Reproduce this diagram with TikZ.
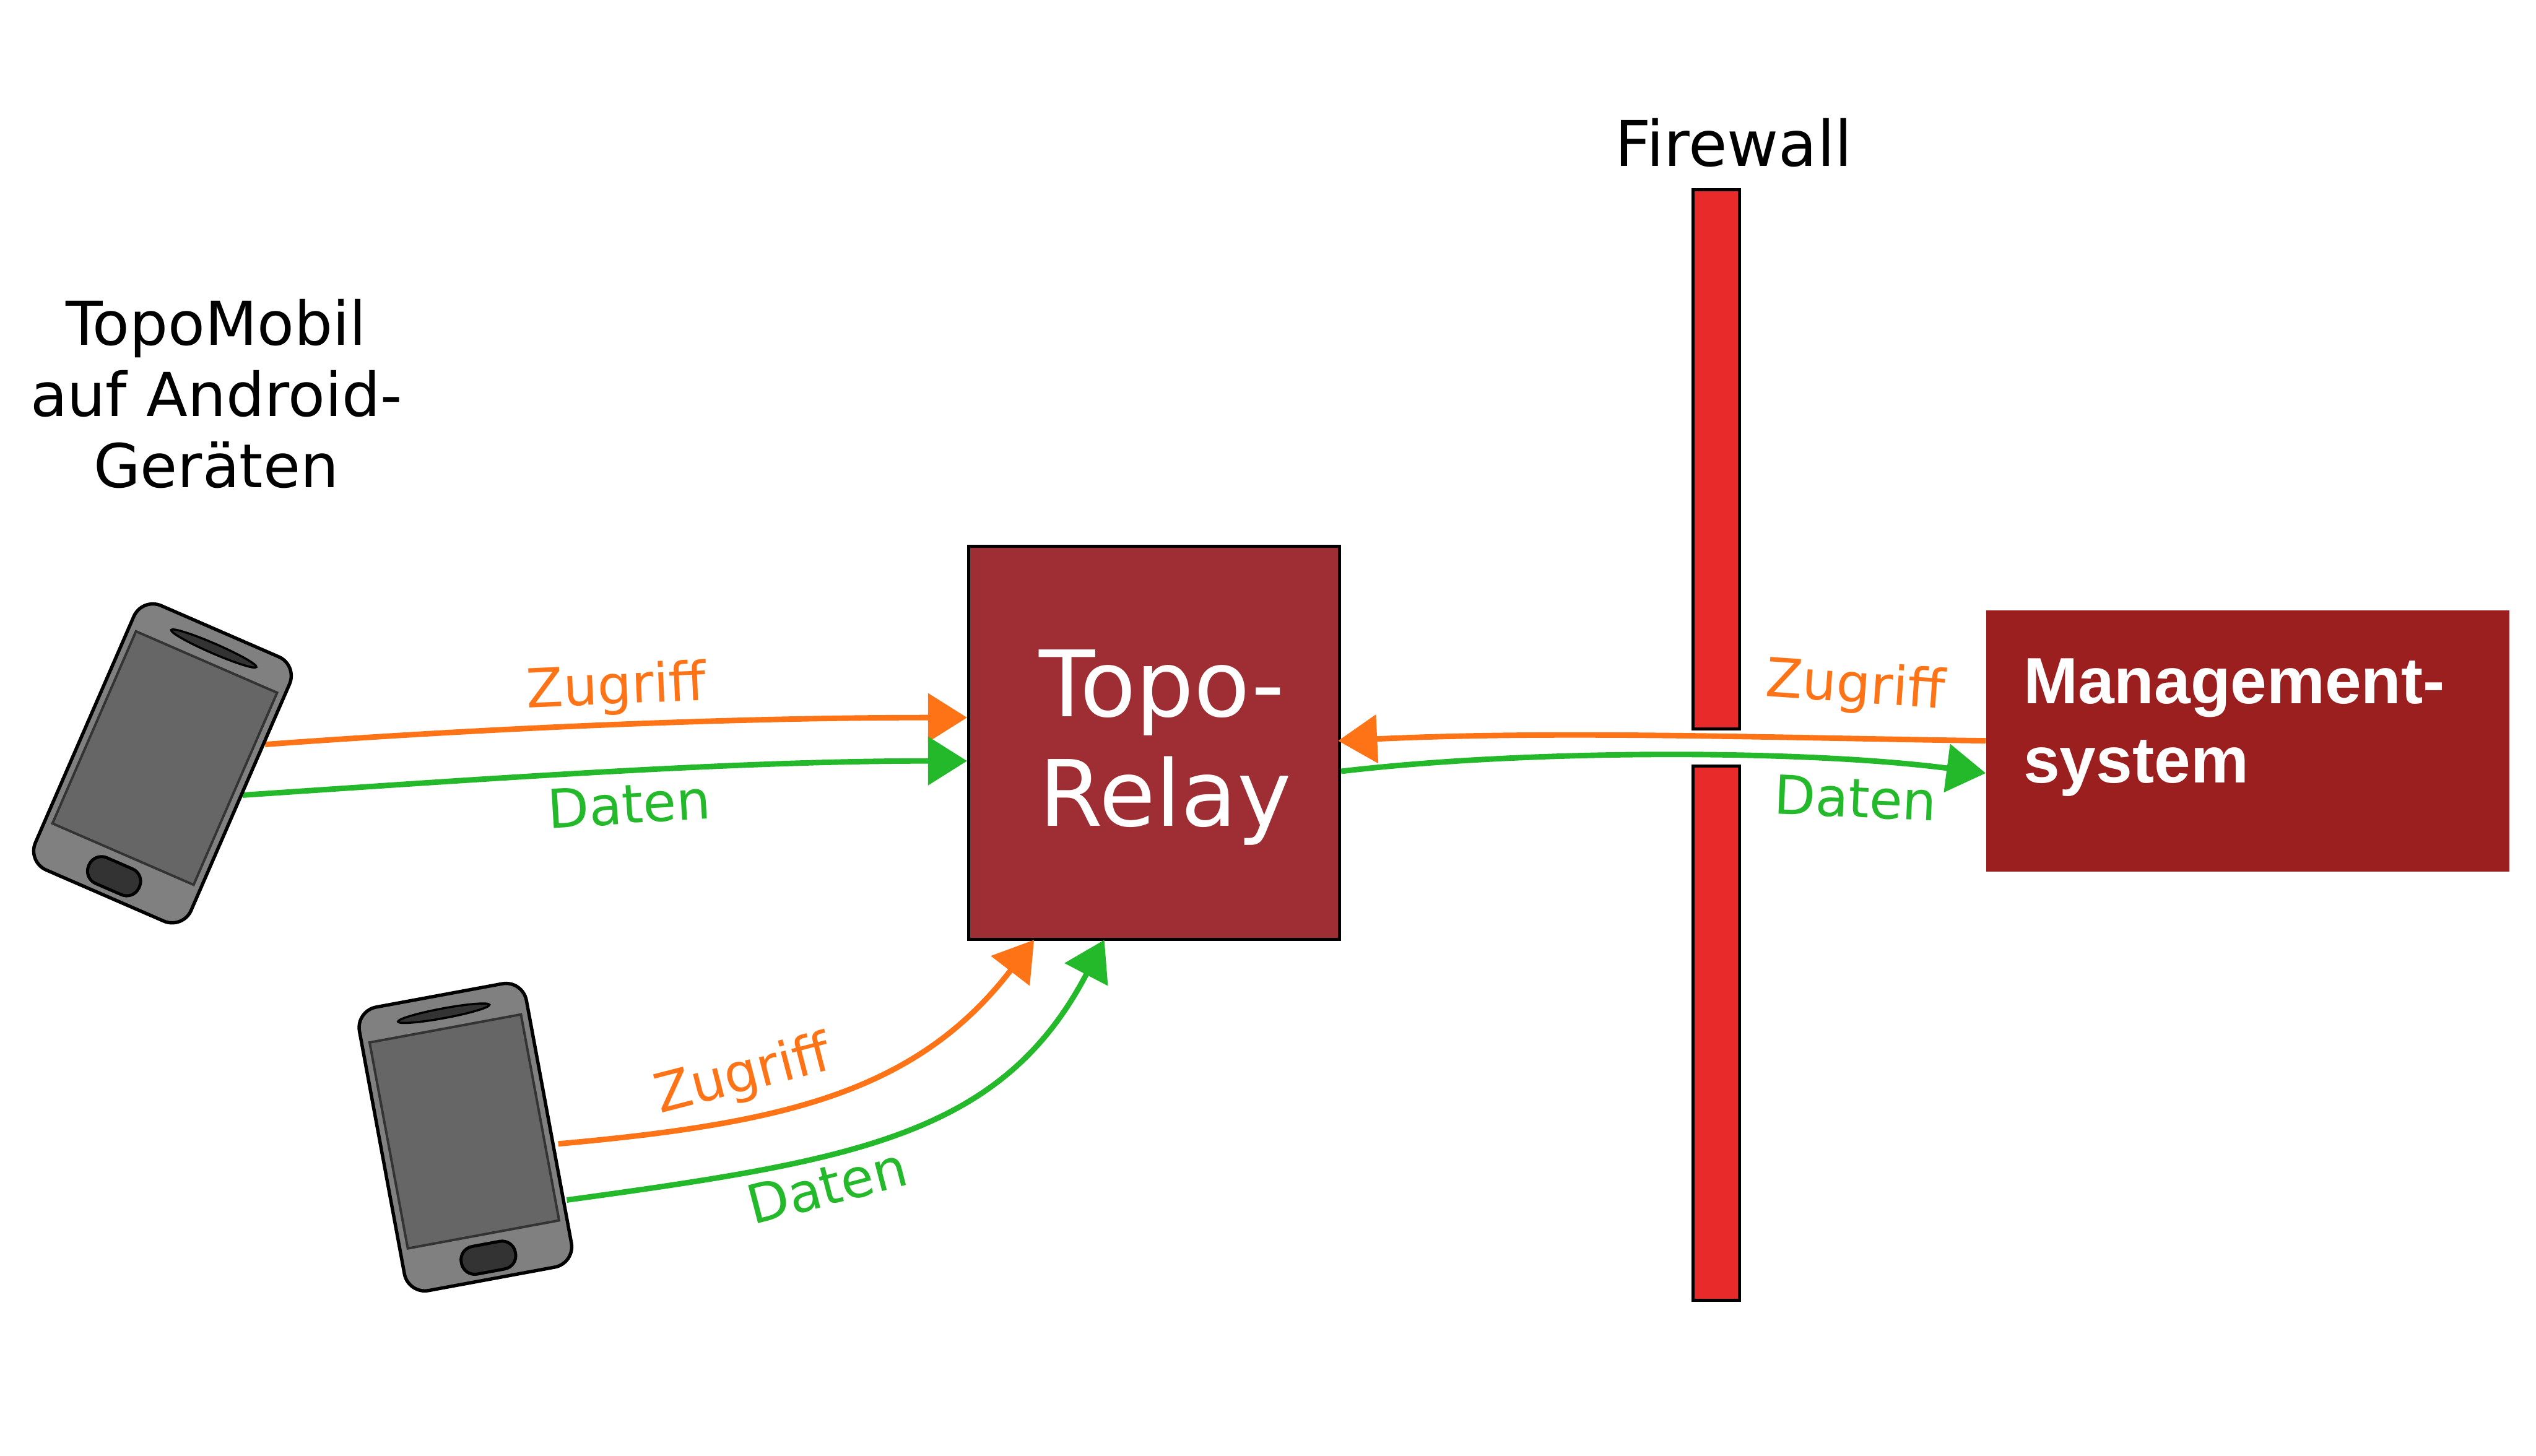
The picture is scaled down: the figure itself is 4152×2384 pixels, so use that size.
\documentclass[tikz,border=0pt]{standalone}
\usepackage{fontspec}
\setmainfont{DejaVu Sans}
\newfontfamily\mgmtfont{Liberation Sans}
\usetikzlibrary{arrows.meta}
\definecolor{orangeC}{HTML}{FF7317}
\definecolor{greenC}{HTML}{24B92B}
\definecolor{relayC}{HTML}{9E2E33}
\definecolor{mgmtC}{HTML}{9C1F1F}
\definecolor{wallC}{HTML}{E82A2A}
\tikzset{
  x=0.01cm,y=-0.01cm,
  wall/.style={draw=black,line width=0.05cm,fill=wallC,minimum width=0.76cm,inner sep=0pt,anchor=north},
  relaybox/.style={draw=black,line width=0.05cm,fill=relayC,minimum width=6.07cm,minimum height=6.43cm,inner sep=0pt},
  mgmtbox/.style={fill=mgmtC,minimum width=8.56cm,minimum height=4.27cm,inner sep=0pt},
  title/.style={align=center,text=black,inner sep=0pt},
  flow/.style={line width=0.09cm,-{Triangle[length=0.64cm,width=0.78cm]}},
  acc/.style={flow,draw=orangeC,color=orangeC},
  dat/.style={flow,draw=greenC,color=greenC},
  acclabel/.style={font=\fontsize{0.88cm}{1cm}\selectfont,text=orangeC,inner sep=0pt},
  datlabel/.style={font=\fontsize{0.88cm}{1cm}\selectfont,text=greenC,inner sep=0pt},
  phone/.pic={
    \draw[line width=0.055cm,fill=black!50,rounded corners=0.34cm] (-139,-236) rectangle (139,236);
    \draw[line width=0.04cm,draw=black!80,fill=black!60] (-126,-181) rectangle (126,162);
    \draw[line width=0.035cm,fill=black!80] (2,-206) ellipse [x radius=0.76cm,y radius=0.08cm];
    \draw[line width=0.05cm,fill=black!80,rounded corners=0.22cm] (-44,178) rectangle (46,224);
  }
}
\begin{document}
\begin{tikzpicture}
\useasboundingbox (0,0) rectangle (4152,2384);
\fill[white] (0,0) rectangle (4152,2384);
% boxes
\node[wall,minimum height=8.83cm] (wallA) at (2810,308) {};
\node[wall,minimum height=8.74cm] (wallB) at (2810,1252) {};
\node[relaybox] (relay) at (1889.5,1216.5) {};
\node[mgmtbox] (mgmt) at (3680,1213.5) {};
\node[anchor=west,inner sep=0pt,align=left,text=white,font=\fontsize{1.5cm}{1.8cm}\selectfont] (relaytext) at (1701,1224) {Topo-\\Relay};
\node[anchor=west,inner sep=0pt,align=left,text=white,font=\mgmtfont\bfseries\fontsize{1.07cm}{1.3cm}\selectfont] (mgmttext) at (3312,1191) {Management-\\system};
\node[title,font=\fontsize{1.03cm}{1.165cm}\selectfont] (fwtext) at (2838,234) {Firewall};
\node[title,font=\fontsize{0.99cm}{1.165cm}\selectfont] (tmtext) at (354,645) {TopoMobil\\auf Android-\\Geräten};
% connector ends
\coordinate (aS) at (434,1219);
\coordinate (aE) at (relay.west |- 0,1175);
\coordinate (bS) at (397,1302);
\coordinate (bE) at (relay.west |- 0,1246);
\coordinate (cS) at (914,1873);
\coordinate (cE) at (1693,1539);
\coordinate (dS) at (928,1965);
\coordinate (dE) at (1808,1539);
\coordinate (eS) at (mgmt.west |- 0,1213);
\coordinate (eE) at ([xshift=-0.05cm]relay.east |- 0,1213);
\coordinate (fS) at (relay.east |- 0,1263);
\coordinate (fE) at (mgmt.west |- 0,1266);
% connectors
\draw[acc] (aS) .. controls (800,1192) and (1200,1175) .. (aE);
\draw[dat] (bS) .. controls (800,1275) and (1200,1246) .. (bE);
\draw[acc] (cS) .. controls (1280,1840) and (1500,1790) .. (cE);
\draw[dat] (dS) .. controls (1400,1900) and (1640,1860) .. (dE);
\draw[acc] (eS) .. controls (2900,1208) and (2550,1196) .. (eE);
\draw[dat] (fS) .. controls (2500,1227) and (2950,1227) .. (fE);
% labels
\node[acclabel,rotate=2.5]  (l1) at (1009,1128) {Zugriff};
\node[datlabel,rotate=3.5]  (l2) at (1030,1317) {Daten};
\node[acclabel,rotate=14.5] (l3) at (1217,1763) {Zugriff};
\node[datlabel,rotate=14.5] (l4) at (1354,1942) {Daten};
\node[acclabel,rotate=-4] (l5) at (3037,1126) {Zugriff};
\node[datlabel,rotate=-2.5] (l6) at (3038,1307) {Daten};
% phones
\pic[rotate=-23.5] at (266,1250) {phone};
\pic[rotate=10.5] at (762,1862) {phone};
\end{tikzpicture}
\end{document}
